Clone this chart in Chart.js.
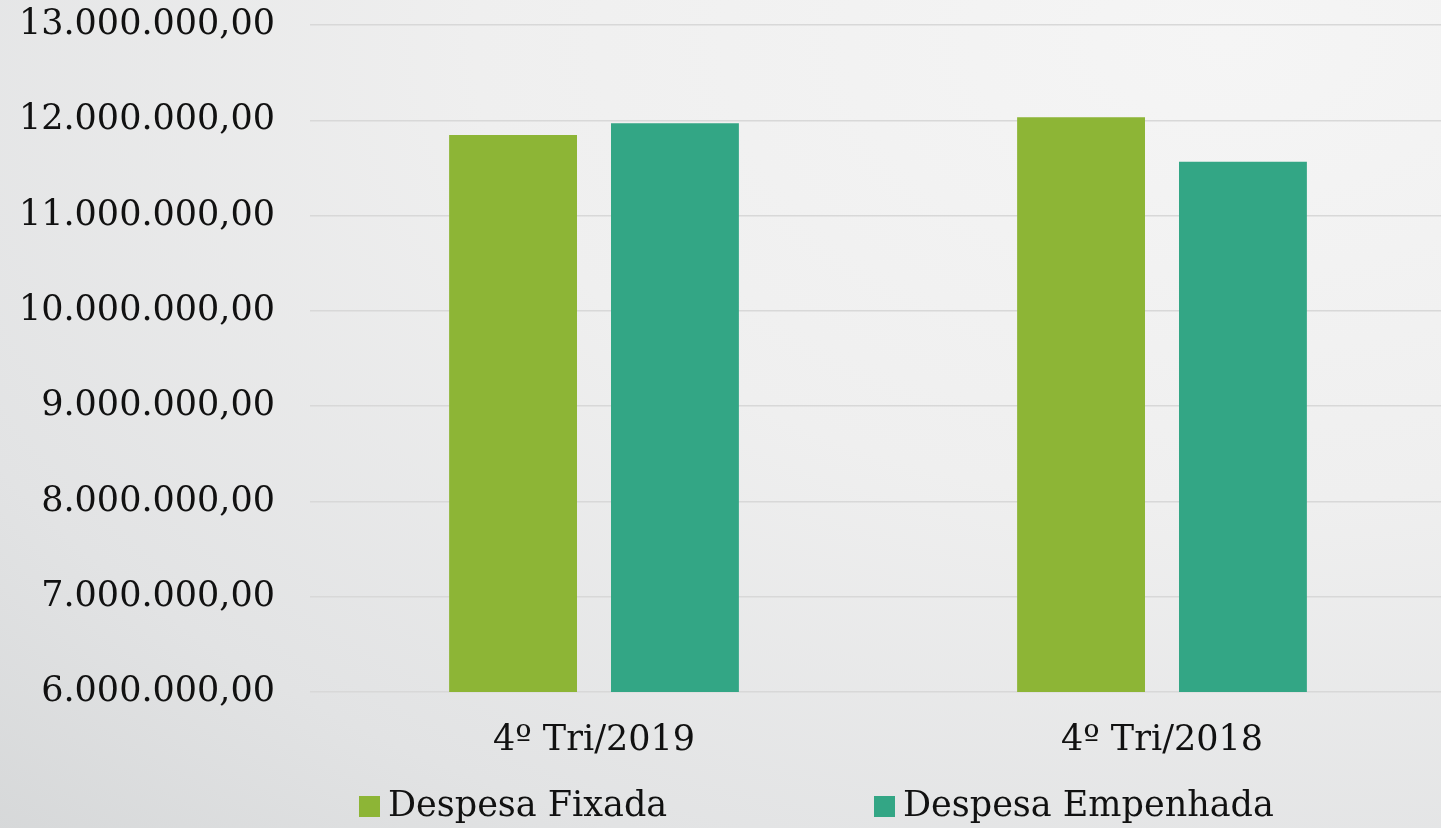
<!DOCTYPE html>
<html>
<head>
<meta charset="utf-8">
<script src="https://cdn.jsdelivr.net/npm/chart.js@4.4.1/dist/chart.umd.min.js"></script>
<style>
  html, body { margin: 0; padding: 0; width: 1441px; height: 828px; overflow: hidden; }
  body { background: radial-gradient(ellipse 130% 140% at 85% 5%, #f5f5f5 0%, #efefef 40%, #e2e3e4 75%, #d3d5d6 100%); }
  #wrap { position: absolute; left: 0; top: 0; width: 1446px; height: 828px; }
</style>
</head>
<body>
<div id="wrap"><canvas id="c"></canvas></div>
<script>
const categories = ['4º Tri/2019', '4º Tri/2018'];
const despesaFixada = [11845000, 12031000];
const despesaEmpenhada = [11968000, 11565000];
const seriesNames = ['Despesa Fixada', 'Despesa Empenhada'];
const seriesColors = ['#8DB536', '#33A685'];
const yMin = 6000000, yMax = 13000000, yStep = 1000000;

const FONT = '"DejaVu Serif", serif';

function fmtBR(v) {
  const n = Math.round(v);
  const s = String(n).replace(/\B(?=(\d{3})+(?!\d))/g, '.');
  return s + ',00';
}

const legendPlugin = {
  id: 'customLegend',
  afterDraw(chart, args, opts) {
    const ctx = chart.ctx;
    ctx.save();
    ctx.font = '35px ' + FONT;
    ctx.textBaseline = 'middle';
    ctx.textAlign = 'left';
    chart.data.datasets.forEach((ds, i) => {
      const x = opts.x[i];
      ctx.fillStyle = ds.backgroundColor;
      ctx.fillRect(x, opts.y - 10, 21, 21);
      ctx.fillStyle = '#111111';
      ctx.fillText(ds.label, x + 29, opts.y + 1);
    });
    ctx.restore();
  }
};

new Chart(document.getElementById('c'), {
  type: 'bar',
  data: {
    labels: categories,
    datasets: [
      { label: seriesNames[0], data: despesaFixada, backgroundColor: seriesColors[0] },
      { label: seriesNames[1], data: despesaEmpenhada, backgroundColor: seriesColors[1] }
    ]
  },
  options: {
    responsive: true,
    maintainAspectRatio: false,
    animation: false,
    datasets: { bar: { barPercentage: 0.79, categoryPercentage: 0.57 } },
    layout: { padding: { top: 25, left: 0, right: 0, bottom: 38 } },
    plugins: {
      legend: { display: false },
      tooltip: { enabled: false },
      customLegend: { x: [359, 874], y: 806 }
    },
    scales: {
      x: {
        grid: { display: false, drawTicks: false },
        border: { display: false },
        ticks: { color: '#111111', font: { family: FONT, size: 35 }, padding: 28 }
      },
      y: {
        min: yMin, max: yMax,
        afterFit(scale) { scale.width = 310; },
        grid: { color: '#d8d8d8', lineWidth: 1.5, drawTicks: true, tickLength: 35, tickColor: 'rgba(0,0,0,0)' },
        border: { display: false },
        ticks: {
          stepSize: yStep,
          color: '#111111',
          font: { family: FONT, size: 35 },
          padding: 0,
          callback: (v) => fmtBR(v)
        }
      }
    }
  },
  plugins: [legendPlugin]
});
</script>
</body>
</html>
